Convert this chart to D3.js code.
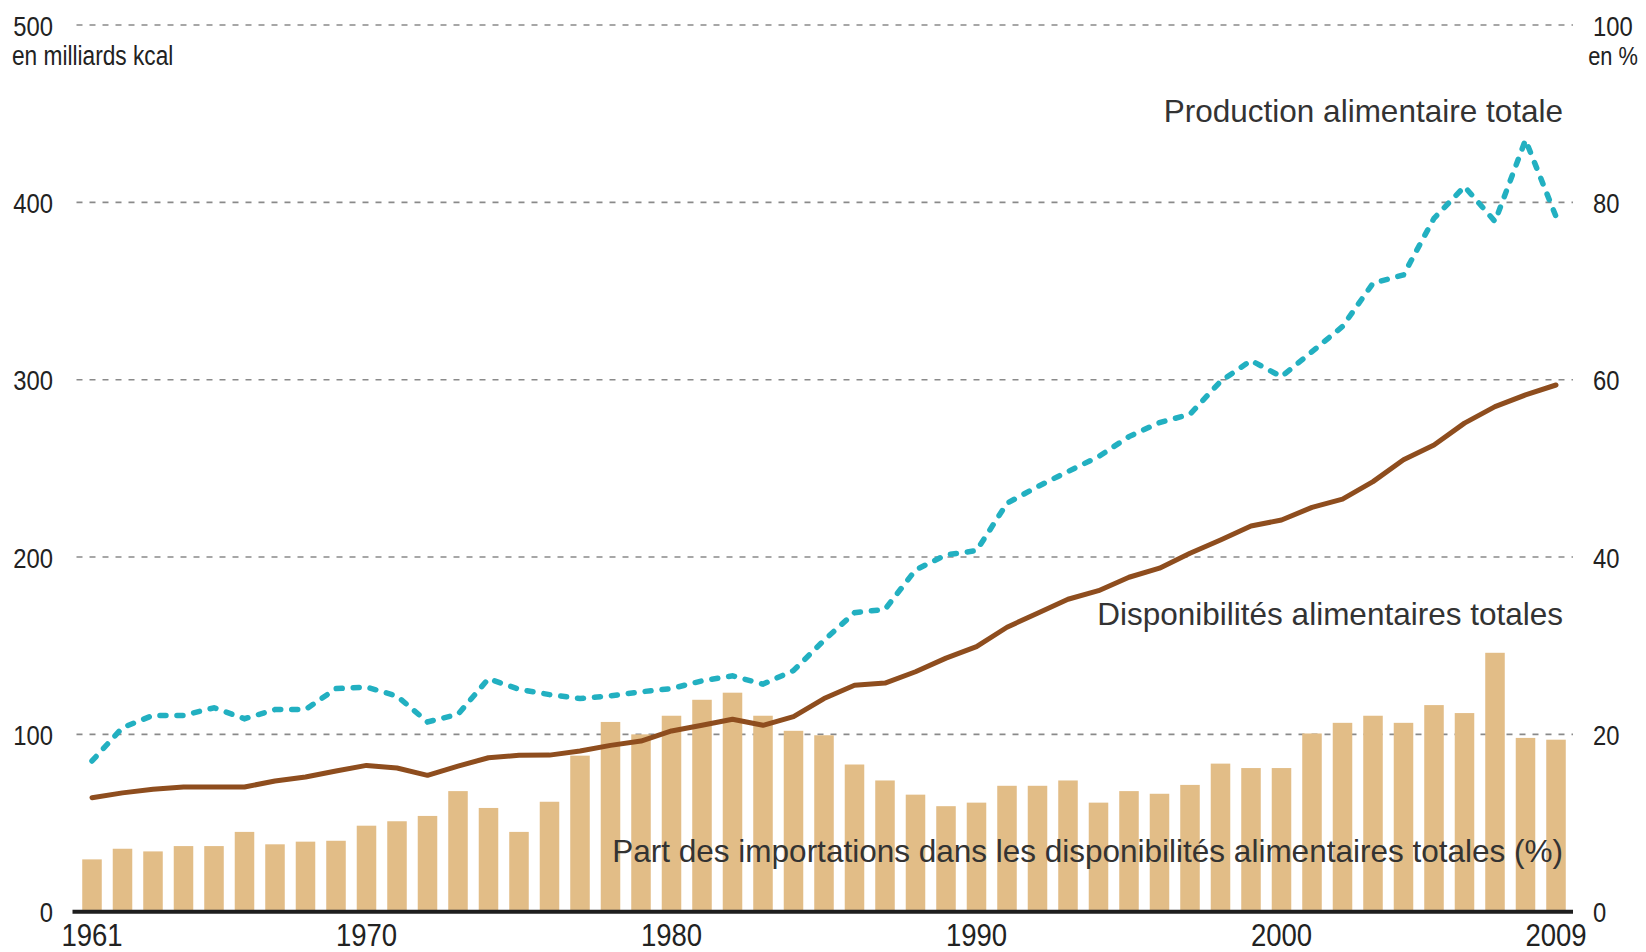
<!DOCTYPE html>
<html>
<head>
<meta charset="utf-8">
<script src="https://cdn.jsdelivr.net/npm/d3@7"></script>
<style>
  body { margin: 0; background: #fff; }
  svg { display: block; }
  .tick-label { font-family: "Liberation Sans Narrow", "Liberation Sans", Arial, sans-serif; fill: #222; }
  .series-label { font-family: "Liberation Sans", Arial, sans-serif; fill: #333; }
</style>
</head>
<body>
<script>

// years (categories)
var years = [1961,1962,1963,1964,1965,1966,1967,1968,1969,1970,
             1971,1972,1973,1974,1975,1976,1977,1978,1979,1980,
             1981,1982,1983,1984,1985,1986,1987,1988,1989,1990,
             1991,1992,1993,1994,1995,1996,1997,1998,1999,2000,
             2001,2002,2003,2004,2005,2006,2007,2008,2009];

// Part des importations (%) - right axis
var imports = [5.9,7.1,6.8,7.4,7.4,9.0,7.6,7.9,8.0,9.7,
               10.2,10.8,13.6,11.7,9.0,12.4,17.6,21.4,20.0,22.1,
               23.9,24.7,22.1,20.4,19.9,16.6,14.8,13.2,11.9,12.3,
               14.2,14.2,14.8,12.3,13.6,13.3,14.3,16.7,16.2,16.2,
               20.1,21.3,22.1,21.3,23.3,22.4,29.2,19.6,19.4];

// Disponibilités alimentaires totales (milliards kcal)
var disponibilites = [64.3,67,69,70.3,70.3,70.3,73.7,76,79.3,82.5,
                      81,76.9,82.1,86.8,88.2,88.3,90.6,93.8,96.2,101.9,
                      105.1,108.5,105.1,110,120.2,127.7,128.9,135.3,143,149.5,
                      160.4,168.3,176.2,181,188.6,193.7,202.1,209.6,217.5,220.9,
                      228,232.6,242.5,254.8,263.2,275.5,284.8,291.4,297];

// Production alimentaire totale (milliards kcal)
var production = [85,103.8,110.7,110.7,115,108.8,114,114,125.8,126.7,
                  121.6,107,111.3,131.4,125.4,122.4,120.2,121.7,124,125.8,
                  130.2,133,128.3,136,153,168.6,170.5,192.7,201.2,203.6,
                  230.3,239.7,248.2,256.6,267.9,275.8,280.5,299,310.8,301.7,
                  315.8,330,354.4,359.1,391,408.9,389.2,435.2,392];

var leftTicks = [0,100,200,300,400,500];
var rightTicks = [0,20,40,60,80,100];
var yearTicks = [1961,1970,1980,1990,2000,2009];

var width = 1646, height = 952;

var svg = d3.select("body").append("svg")
    .attr("width", width)
    .attr("height", height);

var xScale = d3.scaleBand()
    .domain(years)
    .range([76.75, 1571.25])
    .paddingInner(0.36)
    .paddingOuter(0.18);

var yScale = d3.scaleLinear()
    .domain([0, 500])
    .range([911.7, 25]);

var y2Scale = d3.scaleLinear()
    .domain([0, 100])
    .range([911.7, 25]);

function cx(year) { return xScale(year) + xScale.bandwidth() / 2; }

// squeeze tick text horizontally (the original uses a condensed face)
function narrow(sel, k) {
  sel.each(function() {
    var len = this.getComputedTextLength();
    d3.select(this)
      .attr("textLength", len * k)
      .attr("lengthAdjust", "spacingAndGlyphs");
  });
}

// dashed gridlines
svg.append("g")
  .selectAll("line")
  .data(leftTicks.filter(function(d) { return d > 0; }))
  .join("line")
    .attr("x1", 76.5)
    .attr("x2", 1573)
    .attr("y1", function(d) { return yScale(d); })
    .attr("y2", function(d) { return yScale(d); })
    .attr("stroke", "#8a8a8a")
    .attr("stroke-width", 1.6)
    .attr("stroke-dasharray", "6,7");

// bars
svg.append("g")
  .selectAll("rect")
  .data(years)
  .join("rect")
    .attr("x", function(d) { return xScale(d); })
    .attr("width", xScale.bandwidth())
    .attr("y", function(d, i) { return y2Scale(imports[i]); })
    .attr("height", function(d, i) { return y2Scale(0) - y2Scale(imports[i]); })
    .attr("fill", "#e2bd87");

// baseline
svg.append("line")
    .attr("x1", 72.5)
    .attr("x2", 1573)
    .attr("y1", yScale(0))
    .attr("y2", yScale(0))
    .attr("stroke", "#1e1e1e")
    .attr("stroke-width", 4);

var line = d3.line()
    .x(function(d, i) { return cx(years[i]); })
    .y(function(d) { return yScale(d); });

svg.append("path")
    .datum(disponibilites)
    .attr("d", line)
    .attr("fill", "none")
    .attr("stroke", "#8e4d1e")
    .attr("stroke-width", 5)
    .attr("stroke-linejoin", "round")
    .attr("stroke-linecap", "round");

svg.append("path")
    .datum(production)
    .attr("d", line)
    .attr("fill", "none")
    .attr("stroke", "#22b0c1")
    .attr("stroke-width", 5.5)
    .attr("stroke-linecap", "round")
    .attr("stroke-dasharray", "6,11");

// left axis labels
var leftAxis = svg.append("g")
    .attr("transform", "translate(53,0)")
    .call(d3.axisLeft(yScale).tickValues(leftTicks).tickSize(0).tickPadding(0));
leftAxis.select(".domain").remove();
leftAxis.selectAll("text")
    .attr("class", "tick-label")
    .attr("dy", "0.36em")
    .style("font-size", "28px")
    .call(narrow, 0.85);

// right axis labels
var rightAxis = svg.append("g")
    .attr("transform", "translate(1593,0)")
    .call(d3.axisRight(y2Scale).tickValues(rightTicks).tickSize(0).tickPadding(0));
rightAxis.select(".domain").remove();
rightAxis.selectAll("text")
    .attr("class", "tick-label")
    .attr("dy", "0.36em")
    .style("font-size", "28px")
    .call(narrow, 0.85);

// year labels
var xAxis = svg.append("g")
    .attr("transform", "translate(0,946)")
    .call(d3.axisBottom(xScale).tickValues(yearTicks).tickSize(0).tickPadding(0));
xAxis.select(".domain").remove();
xAxis.selectAll("text")
    .attr("class", "tick-label")
    .attr("y", 0)
    .attr("dy", 0)
    .style("font-size", "32px")
    .call(narrow, 0.86);

// unit labels
svg.append("text")
    .attr("class", "tick-label")
    .attr("x", 12)
    .attr("y", 65)
    .style("font-size", "27px")
    .text("en milliards kcal")
    .call(narrow, 0.84);

svg.append("text")
    .attr("class", "tick-label")
    .attr("x", 1638)
    .attr("y", 65)
    .attr("text-anchor", "end")
    .style("font-size", "26px")
    .text("en %")
    .call(narrow, 0.84);

// series labels
svg.append("text")
    .attr("class", "series-label")
    .attr("x", 1563)
    .attr("y", 122)
    .attr("text-anchor", "end")
    .style("font-size", "31.5px")
    .text("Production alimentaire totale");

svg.append("text")
    .attr("class", "series-label")
    .attr("x", 1563)
    .attr("y", 625)
    .attr("text-anchor", "end")
    .style("font-size", "31.5px")
    .text("Disponibilités alimentaires totales");

svg.append("text")
    .attr("class", "series-label")
    .attr("x", 1563)
    .attr("y", 862)
    .attr("text-anchor", "end")
    .style("font-size", "31.5px")
    .text("Part des importations dans les disponibilités alimentaires totales (%)");

</script>
</body>
</html>
